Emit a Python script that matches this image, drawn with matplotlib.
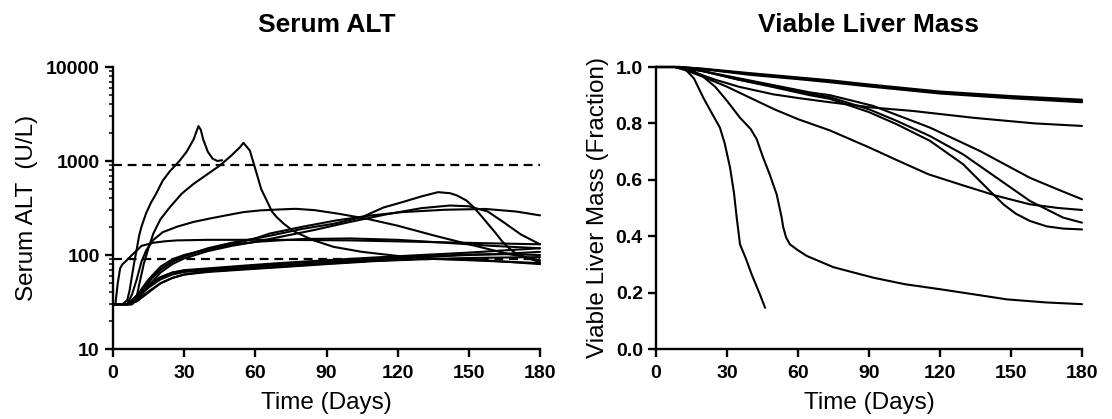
import matplotlib
matplotlib.use("Agg")
import matplotlib.pyplot as plt
from matplotlib.ticker import LogLocator, FixedLocator, NullFormatter

plt.rcParams['font.family'] = ['Liberation Sans', 'DejaVu Sans']

# ---------------- Serum ALT data (day, U/L) ----------------
alt_peak36_days = [0, 4, 6, 7, 8, 9, 10, 11, 12, 14, 16, 18, 21, 24, 28, 31, 34, 36, 37, 38, 40, 42, 44, 46]
alt_peak36_vals = [30, 30, 33, 42, 60, 85, 115, 160, 200, 280, 360, 440, 620, 780, 1000, 1250, 1700, 2350, 2150, 1700, 1250, 1060, 1000, 1020]

alt_peak55_days = [0, 8, 10, 11, 12, 13, 15, 17, 20, 24, 29, 34, 40, 45, 50, 53.5, 55, 57.7, 60.6, 62.5, 64.8, 67, 69, 72, 76, 84, 93, 105, 121, 140, 160, 180]
alt_peak55_vals = [30, 30, 36, 48, 62, 81, 120, 169, 240, 323, 450, 572, 730, 893, 1150, 1400, 1560, 1290, 730, 500, 380, 290, 253, 215, 180, 145, 122, 108, 97, 90, 86, 82]

alt_flat_days = [0, 1, 2, 3, 4, 5, 8, 12, 17, 22, 27, 40, 70, 100, 130, 160, 180]
alt_flat_vals = [30, 30, 50, 72, 80, 84, 100, 125, 135, 140, 143, 145, 145, 143, 138, 133, 130]

alt_hump75_days = [0, 6, 8, 10, 12, 14, 17, 21, 27, 34, 41, 48, 55, 62, 70, 77, 85, 95, 107, 120, 135, 150, 165, 180]
alt_hump75_vals = [30, 30, 38, 55, 85, 112, 145, 175, 200, 225, 245, 265, 286, 298, 305, 310, 300, 275, 243, 205, 162, 130, 105, 88]

alt_peak140_days = [0, 8, 12, 16, 20, 25, 30, 40, 50, 60, 66, 80, 93, 105, 114, 122, 130, 137, 142, 145, 149, 152, 155, 158, 161, 164, 167, 170, 175, 180]
alt_peak140_vals = [30, 30, 40, 55, 70, 85, 98, 118, 135, 150, 160, 190, 215, 253, 320, 365, 420, 466, 455, 430, 380, 323, 265, 215, 175, 140, 118, 103, 92, 84]

alt_hump145_days = [0, 8, 12, 16, 20, 25, 30, 40, 50, 60, 70, 85, 100, 115, 130, 142, 150, 158, 165, 172, 180]
alt_hump145_vals = [30, 30, 38, 50, 65, 80, 92, 110, 125, 138, 155, 185, 225, 270, 315, 336, 330, 290, 220, 165, 130]

alt_hump155_days = [0, 8, 12, 16, 20, 25, 30, 40, 50, 60, 66, 80, 94, 108, 122, 140, 157, 170, 180]
alt_hump155_vals = [30, 30, 40, 55, 70, 85, 97, 115, 130, 150, 169, 200, 233, 262, 286, 303, 309, 290, 264]

alt_mid_days = [0, 7, 11, 15, 20, 25, 30, 40, 50, 60, 80, 100, 120, 140, 160, 180]
alt_mid_vals = [30, 30, 40, 55, 75, 90, 100, 115, 128, 138, 148, 150, 145, 135, 125, 118]

alt_low_days = [0, 6, 10, 15, 20, 25, 30, 40, 55, 70, 90, 110, 130, 150, 165, 180]
alt_low1_vals = [30, 30, 35, 45, 55, 62, 66, 69, 73, 77, 83, 90, 95, 100, 103, 108]
alt_low2_vals = [30, 30, 37, 48, 58, 65, 68, 71, 75, 80, 86, 92, 97, 101, 102, 100]
alt_low3_vals = [30, 30, 33, 41, 50, 57, 62, 66, 70, 74, 80, 86, 90, 93, 94, 95]
alt_low4_vals = [30, 30, 36, 47, 58, 65, 69, 72, 77, 82, 88, 94, 100, 106, 112, 118]
alt_low5_vals = [30, 30, 32, 40, 50, 57, 62, 67, 71, 75, 81, 87, 91, 90, 85, 80]

alt_upper_ref = 900
alt_lower_ref = 90

# ---------------- Viable liver mass data (day, fraction) ----------------
mass_die46_days = [0, 8, 12, 16, 20, 24, 27, 29, 31.3, 33, 34.1, 35.5, 38, 40.4, 43.9, 46.1]
mass_die46_vals = [1.0, 1.0, 0.995, 0.96, 0.891, 0.83, 0.785, 0.73, 0.643, 0.55, 0.466, 0.371, 0.32, 0.265, 0.194, 0.146]

mass_drop55_days = [0, 10, 15, 20, 25, 30, 35.5, 40, 42.5, 45.3, 48, 51, 53, 53.8, 55, 56.6, 60, 63.7, 75, 91.8, 105, 120, 135, 148.2, 165, 180]
mass_drop55_vals = [1.0, 1.0, 0.99, 0.965, 0.93, 0.88, 0.82, 0.78, 0.745, 0.678, 0.62, 0.548, 0.47, 0.43, 0.395, 0.371, 0.35, 0.33, 0.29, 0.253, 0.23, 0.212, 0.193, 0.176, 0.165, 0.159]

mass_mid_days = [0, 8, 12, 20, 30, 40, 50, 60, 73.5, 90, 101.7, 115, 129.8, 144, 158, 170, 180]
mass_mid_vals = [1.0, 1.0, 0.99, 0.965, 0.93, 0.89, 0.85, 0.815, 0.775, 0.715, 0.67, 0.62, 0.58, 0.543, 0.513, 0.5, 0.493]

mass_r7_days = [0, 8, 15, 25, 35, 49.6, 60, 73.5, 91.8, 108.7, 134, 160, 180]
mass_r7_vals = [1.0, 1.0, 0.985, 0.955, 0.93, 0.903, 0.89, 0.875, 0.856, 0.844, 0.82, 0.8, 0.791]

mass_r4_days = [0, 10, 20, 35, 50, 65, 73.5, 91.8, 101.7, 115.8, 136.9, 158, 170, 180]
mass_r4_vals = [1.0, 1.0, 0.985, 0.96, 0.935, 0.91, 0.9, 0.862, 0.83, 0.785, 0.702, 0.607, 0.565, 0.531]

mass_r5_days = [0, 10, 20, 35, 50, 65, 73.5, 90, 101.7, 115.8, 129.8, 144, 158, 172, 180]
mass_r5_vals = [1.0, 1.0, 0.985, 0.955, 0.93, 0.905, 0.893, 0.85, 0.809, 0.755, 0.69, 0.607, 0.525, 0.466, 0.448]

mass_r6_days = [0, 10, 20, 35, 50, 65, 73.5, 90, 101.7, 115.8, 129.8, 141.1, 146.8, 152, 158, 165, 172, 180]
mass_r6_vals = [1.0, 1.0, 0.985, 0.955, 0.928, 0.9, 0.887, 0.84, 0.797, 0.738, 0.655, 0.56, 0.513, 0.48, 0.454, 0.435, 0.427, 0.424]

mass_top_days = [0, 10, 20, 40, 60, 73.5, 90, 120, 150, 180]
mass_top1_vals = [1.0, 1.0, 0.993, 0.975, 0.96, 0.95, 0.935, 0.91, 0.893, 0.879]
mass_top2_vals = [1.0, 1.0, 0.994, 0.978, 0.963, 0.953, 0.938, 0.913, 0.897, 0.884]
mass_top3_vals = [1.0, 1.0, 0.992, 0.972, 0.957, 0.946, 0.931, 0.906, 0.889, 0.875]

x_ticks = [0, 30, 60, 90, 120, 150, 180]

alt_series = [
    (alt_peak36_days, alt_peak36_vals),
    (alt_peak55_days, alt_peak55_vals),
    (alt_flat_days, alt_flat_vals),
    (alt_hump75_days, alt_hump75_vals),
    (alt_peak140_days, alt_peak140_vals),
    (alt_hump145_days, alt_hump145_vals),
    (alt_hump155_days, alt_hump155_vals),
    (alt_mid_days, alt_mid_vals),
    (alt_low_days, alt_low1_vals),
    (alt_low_days, alt_low2_vals),
    (alt_low_days, alt_low3_vals),
    (alt_low_days, alt_low4_vals),
    (alt_low_days, alt_low5_vals),
]
mass_series = [
    (mass_die46_days, mass_die46_vals),
    (mass_drop55_days, mass_drop55_vals),
    (mass_mid_days, mass_mid_vals),
    (mass_r7_days, mass_r7_vals),
    (mass_r4_days, mass_r4_vals),
    (mass_r5_days, mass_r5_vals),
    (mass_r6_days, mass_r6_vals),
    (mass_top_days, mass_top1_vals),
    (mass_top_days, mass_top2_vals),
    (mass_top_days, mass_top3_vals),
]

W, H = 1112, 419
fig = plt.figure(figsize=(W / 100, H / 100), dpi=100)
ax1 = fig.add_axes([113 / W, 1 - 349 / H, 427 / W, 282 / H])
ax2 = fig.add_axes([656 / W, 1 - 349 / H, 426 / W, 282 / H])

LW = 1.5
for d, v in alt_series:
    ax1.plot(d, v, color='black', lw=LW, solid_joinstyle='round', solid_capstyle='round', clip_on=False)
ax1.axhline(alt_upper_ref, color='black', lw=1.6, ls=(0, (4, 2.6)))
ax1.axhline(alt_lower_ref, color='black', lw=1.6, ls=(0, (4, 2.6)))
ax1.set_yscale('log')
ax1.set_ylim(10, 10000)
ax1.yaxis.set_major_locator(FixedLocator([10, 100, 1000, 10000]))
ax1.yaxis.set_major_formatter(matplotlib.ticker.FixedFormatter(['10', '100', '1000', '10000']))
ax1.yaxis.set_minor_locator(LogLocator(base=10, subs=range(2, 10)))
ax1.yaxis.set_minor_formatter(NullFormatter())

for d, v in mass_series:
    ax2.plot(d, v, color='black', lw=LW, solid_joinstyle='round', solid_capstyle='round', clip_on=False)
ax2.set_ylim(0, 1.0)
ax2.set_yticks([0.0, 0.2, 0.4, 0.6, 0.8, 1.0])
ax2.set_yticklabels(['0.0', '0.2', '0.4', '0.6', '0.8', '1.0'])

for ax in (ax1, ax2):
    ax.set_xlim(0, 180)
    ax.set_xticks(x_ticks)
    ax.set_xticklabels([str(t) for t in x_ticks])
    for s in ('top', 'right'):
        ax.spines[s].set_visible(False)
    for s in ('left', 'bottom'):
        ax.spines[s].set_linewidth(1.7)
    ax.tick_params(which='major', direction='out', length=5.5, width=1.7, labelsize=14, pad=4)
    ax.tick_params(axis='x', which='major', pad=6)
    ax.tick_params(which='minor', direction='out', length=3, width=1.1)
    for lab in ax.get_xticklabels() + ax.get_yticklabels():
        lab.set_fontweight('bold')
    ax.set_xlabel('Time (Days)', fontsize=17.5, labelpad=7)

ax1.set_ylabel('Serum ALT  (U/L)', fontsize=17.5, labelpad=6)
ax2.set_ylabel('Viable Liver Mass (Fraction)', fontsize=17.5, labelpad=5)
ax1.set_title('Serum ALT', fontsize=19, fontweight='bold', pad=25)
ax2.set_title('Viable Liver Mass', fontsize=19, fontweight='bold', pad=25)

fig.savefig('out.png', dpi=100)
